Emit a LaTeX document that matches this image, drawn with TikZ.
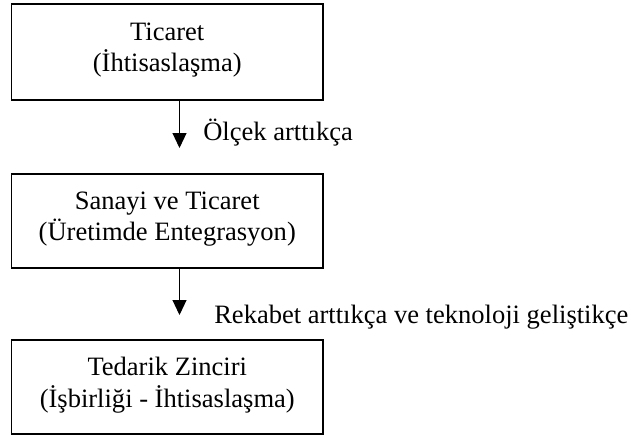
\documentclass[tikz,border=0pt]{standalone}
\usepackage{fontspec}
\setmainfont{Liberation Serif}
\usetikzlibrary{arrows.meta}
\begin{document}
\begin{tikzpicture}[x=0.75pt,y=-0.75pt,
  every node/.style={font=\fontsize{19.9}{23.6}\selectfont},
  stage/.style={draw=black,line width=1.4pt,rectangle,minimum width=311.5*0.75pt,inner sep=0pt,align=center,text depth=7.2pt},
  flow/.style={line width=0.8pt,-{Triangle[length=15*0.75pt,width=14*0.75pt]}},
  lbl/.style={anchor=base west,inner sep=0pt}]
\useasboundingbox (0,0) rectangle (630,436);
\node[stage,minimum height=96*0.75pt] (b1) at (167.25,52) {Ticaret\\(İhtisaslaşma)};
\node[stage,minimum height=94*0.75pt] (b2) at (167.25,221) {Sanayi ve Ticaret\\(Üretimde Entegrasyon)};
\node[stage,minimum height=94*0.75pt] (b3) at (167.25,387) {Tedarik Zinciri\\(İşbirliği - İhtisaslaşma)};
\coordinate (t1) at (179.5,148);
\coordinate (t2) at (179.5,315);
\draw[flow] (b1.south -| t1) -- (t1);
\draw[flow] (b2.south -| t2) -- (t2);
\node[lbl] (l1) at (203,140) {Ölçek arttıkça};
\node[lbl] (l2) at (214,323) {Rekabet arttıkça ve teknoloji geliştikçe};
\end{tikzpicture}
\end{document}
